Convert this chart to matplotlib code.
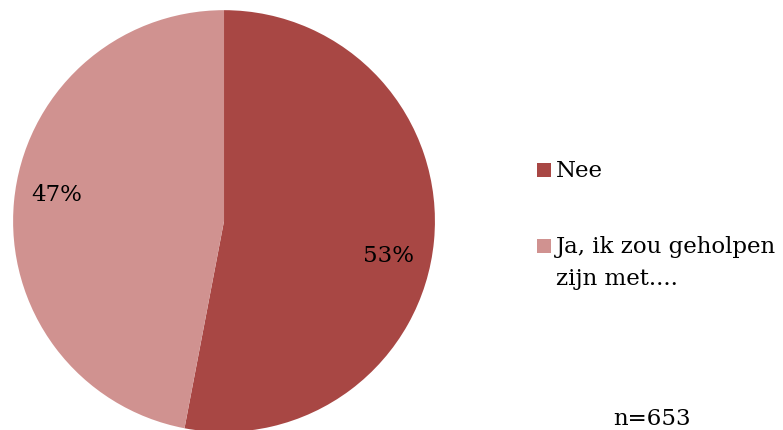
import matplotlib
matplotlib.use("Agg")
import matplotlib.pyplot as plt
from matplotlib.patches import Rectangle

categories = ["Nee", "Ja, ik zou geholpen\nzijn met...."]
values = [53, 47]
pct_labels = ["53%", "47%"]
colors = ["#A84744", "#D09290"]
note = "n=653"

plt.rcParams['font.family'] = ['DejaVu Serif']
FS = 16.5

W, H = 783, 430
fig = plt.figure(figsize=(W / 100, H / 100), dpi=100)
ax = fig.add_axes([0.0166, -0.00465, 0.539, 0.981])
wedges, _ = ax.pie(values, colors=colors, startangle=90, counterclock=False,
                   radius=1.0, wedgeprops=dict(linewidth=0))
ax.set_xlim(-1, 1)
ax.set_ylim(-1, 1)
ax.set_aspect('equal')
ax.axis('off')

label_pos = [(0.782, -0.166), (-0.791, 0.123)]
for (x, y), t in zip(label_pos, pct_labels):
    ax.text(x, y, t, ha='center', va='center', fontsize=FS, color='black')

# legend (handles aligned with first line of each label)
legend_rows = [169.5, 246.0]   # pixel y of square centers
sq = 14
line_gap = 32
for c, lab, yc in zip(colors, categories, legend_rows):
    fig.add_artist(Rectangle((537 / W, 1 - (yc + sq / 2) / H), sq / W, sq / H,
                             transform=fig.transFigure, facecolor=c,
                             edgecolor='none'))
    for i, line in enumerate(lab.split("\n")):
        fig.text(556 / W, 1 - (yc + 7.5 + i * line_gap) / H, line,
                 ha='left', va='baseline', fontsize=FS)

fig.text(652 / W, 1 - 425 / H, note, ha='center', va='baseline', fontsize=FS)

fig.savefig("out.png", dpi=100)
